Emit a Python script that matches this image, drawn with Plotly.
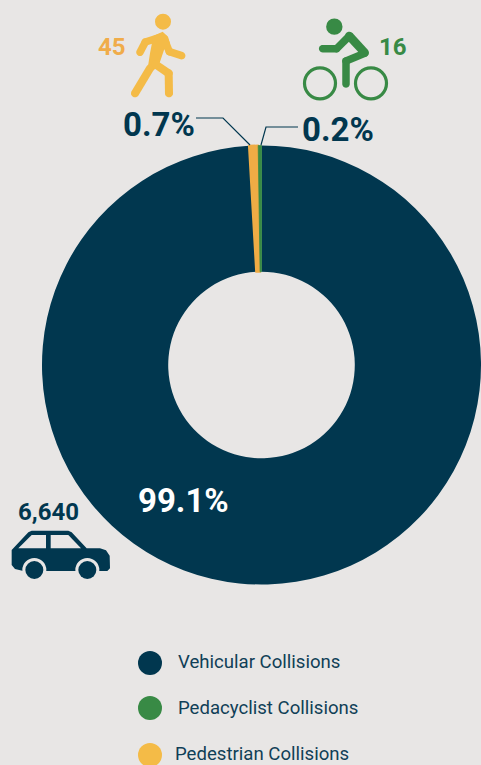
import math
import plotly.graph_objects as go

W, H = 481, 765
categories = ["Vehicular Collisions", "Pedestrian Collisions", "Pedacyclist Collisions"]
values = [6640, 45, 16]
percent_labels = ["99.1%", "0.7%", "0.2%"]
count_labels = ["6,640", "45", "16"]
legend_order = ["Vehicular Collisions", "Pedacyclist Collisions", "Pedestrian Collisions"]

BG = "#E8E6E5"
NAVY = "#01374F"
GREEN = "#388A45"
ORANGE = "#EFAC45"
ORANGE_ICON = "#F4BB47"
TXT = "#103F57"
COLORS = [NAVY, ORANGE, GREEN]

def px(x):
    return x / W

def py(y):
    return 1 - y / H

shapes = []

def path_from(pts, color, close=True, width=0, line=None):
    d = "M " + " L ".join(f"{px(x):.5f} {py(y):.5f}" for x, y in pts) + (" Z" if close else "")
    shapes.append(dict(type="path", xref="paper", yref="paper", path=d,
                       fillcolor=color if close else "rgba(0,0,0,0)",
                       line=dict(color=line or color, width=width), layer="above"))

def circle(cx, cy, r, color, line=None, lw=0):
    shapes.append(dict(type="circle", xref="paper", yref="paper",
                       x0=px(cx - r), x1=px(cx + r), y0=py(cy + r), y1=py(cy - r),
                       fillcolor=color, line=dict(color=line or color, width=lw), layer="above"))

def capsule(a, b, t, color):
    ang = math.atan2(b[1] - a[1], b[0] - a[0])
    pts = []
    for k in range(13):
        th = ang + math.pi / 2 + math.pi * k / 12
        pts.append((a[0] + t / 2 * math.cos(th), a[1] + t / 2 * math.sin(th)))
    for k in range(13):
        th = ang - math.pi / 2 + math.pi * k / 12
        pts.append((b[0] + t / 2 * math.cos(th), b[1] + t / 2 * math.sin(th)))
    path_from(pts, color)

def poly_caps(pts, t, color):
    for a, b in zip(pts, pts[1:]):
        capsule(a, b, t, color)

def c1(x, y):   # top crop coords
    return (90 + x / 3, y / 3)

def c2(x, y):   # car crop coords
    return (x / 3, 490 + y / 3)

# walker
circle(*c1(219, 65), 8, ORANGE_ICON)
poly_caps([c1(210, 112), c1(166, 126), c1(150, 157)], 7.5, ORANGE_ICON)
poly_caps([c1(222, 115), c1(238, 155), c1(275, 167)], 7.5, ORANGE_ICON)
path_from([c1(190, 108), c1(218, 95), c1(234, 110), c1(240, 130), c1(222, 150), c1(205, 200), c1(170, 225), c1(180, 160)], ORANGE_ICON)
poly_caps([c1(180, 205), c1(135, 280)], 8, ORANGE_ICON)
poly_caps([c1(195, 192), c1(236, 220), c1(237, 280)], 8, ORANGE_ICON)

# cyclist
circle(*c1(733, 80), 8.2, GREEN)
circle(*c1(690, 250), 15.5, "rgba(0,0,0,0)", line=GREEN, lw=3.2)
circle(*c1(843, 250), 15.5, "rgba(0,0,0,0)", line=GREEN, lw=3.2)
poly_caps([c1(698, 146), c1(740, 146), c1(778, 108)], 7.5, GREEN)
poly_caps([c1(778, 108), c1(824, 158)], 8.5, GREEN)
poly_caps([c1(824, 160), c1(768, 183), c1(768, 252)], 7.5, GREEN)

# car
path_from([c2(*p) for p in [(35, 180), (85, 127), (95, 122), (205, 122), (215, 127), (260, 175), (300, 175),
                            (318, 181), (329, 197), (330, 235), (322, 243), (70, 243), (45, 237), (35, 225)]], NAVY)
path_from([c2(*p) for p in [(55, 175), (95, 135), (138, 135), (138, 175)]], BG)
path_from([c2(*p) for p in [(152, 135), (205, 135), (243, 175), (152, 175)]], BG)
for cx in (103, 262):
    circle(*c2(cx, 240), 12, BG)
    circle(*c2(cx, 240), 9, NAVY)

# leader lines
path_from([(196, 118), (223, 118), (250, 145)], NAVY, close=False, width=1.2)
path_from([(298, 127), (266, 127), (261, 145)], NAVY, close=False, width=1.2)

# legend dots
LEG_Y = [663, 708, 755]
LEG_X = [175.5, 175.5, 172.5]
dot_color = {"Vehicular Collisions": NAVY, "Pedacyclist Collisions": GREEN, "Pedestrian Collisions": ORANGE_ICON}
for name, y in zip(legend_order, LEG_Y):
    circle(150, y, 12, dot_color[name])

annotations = []

def text(s, x, y, size, color, bold=True, anchor="center", family="Roboto"):
    annotations.append(dict(text=f"<b>{s}</b>" if bold else s, x=px(x), y=py(y), xref="paper", yref="paper",
                            xanchor=anchor, yanchor="middle", showarrow=False,
                            font=dict(family=family, size=size, color=color)))

text(percent_labels[1], 158.5, 125, 33, NAVY)
text(percent_labels[2], 338, 129.5, 33, NAVY)
text(percent_labels[0], 183, 500, 33, "white")
text(count_labels[0], 48, 512, 24, NAVY)
text(count_labels[1], 111.5, 47, 24, "#F0AC4A")
text(count_labels[2], 393, 47, 24, GREEN)
for name, x, y in zip(legend_order, LEG_X, [662, 708, 754]):
    text(name, x, y, 18.6, TXT, bold=False, anchor="left")

fig = go.Figure(go.Pie(
    labels=categories, values=values, hole=0.425, sort=False, direction="clockwise", rotation=0,
    marker=dict(colors=COLORS, line=dict(width=[0, 2, 0.8], color=COLORS)), textinfo="none", hoverinfo="label+value",
    domain=dict(x=[42 / W, 1], y=[180 / H, 620 / H]),
))
fig.update_layout(width=W, height=H, margin=dict(l=0, r=0, t=0, b=0), paper_bgcolor=BG, plot_bgcolor=BG,
                  showlegend=False, shapes=shapes, annotations=annotations)
fig.write_html("out.html", config=dict(displayModeBar=False), post_script="document.body.style.margin='0';")
